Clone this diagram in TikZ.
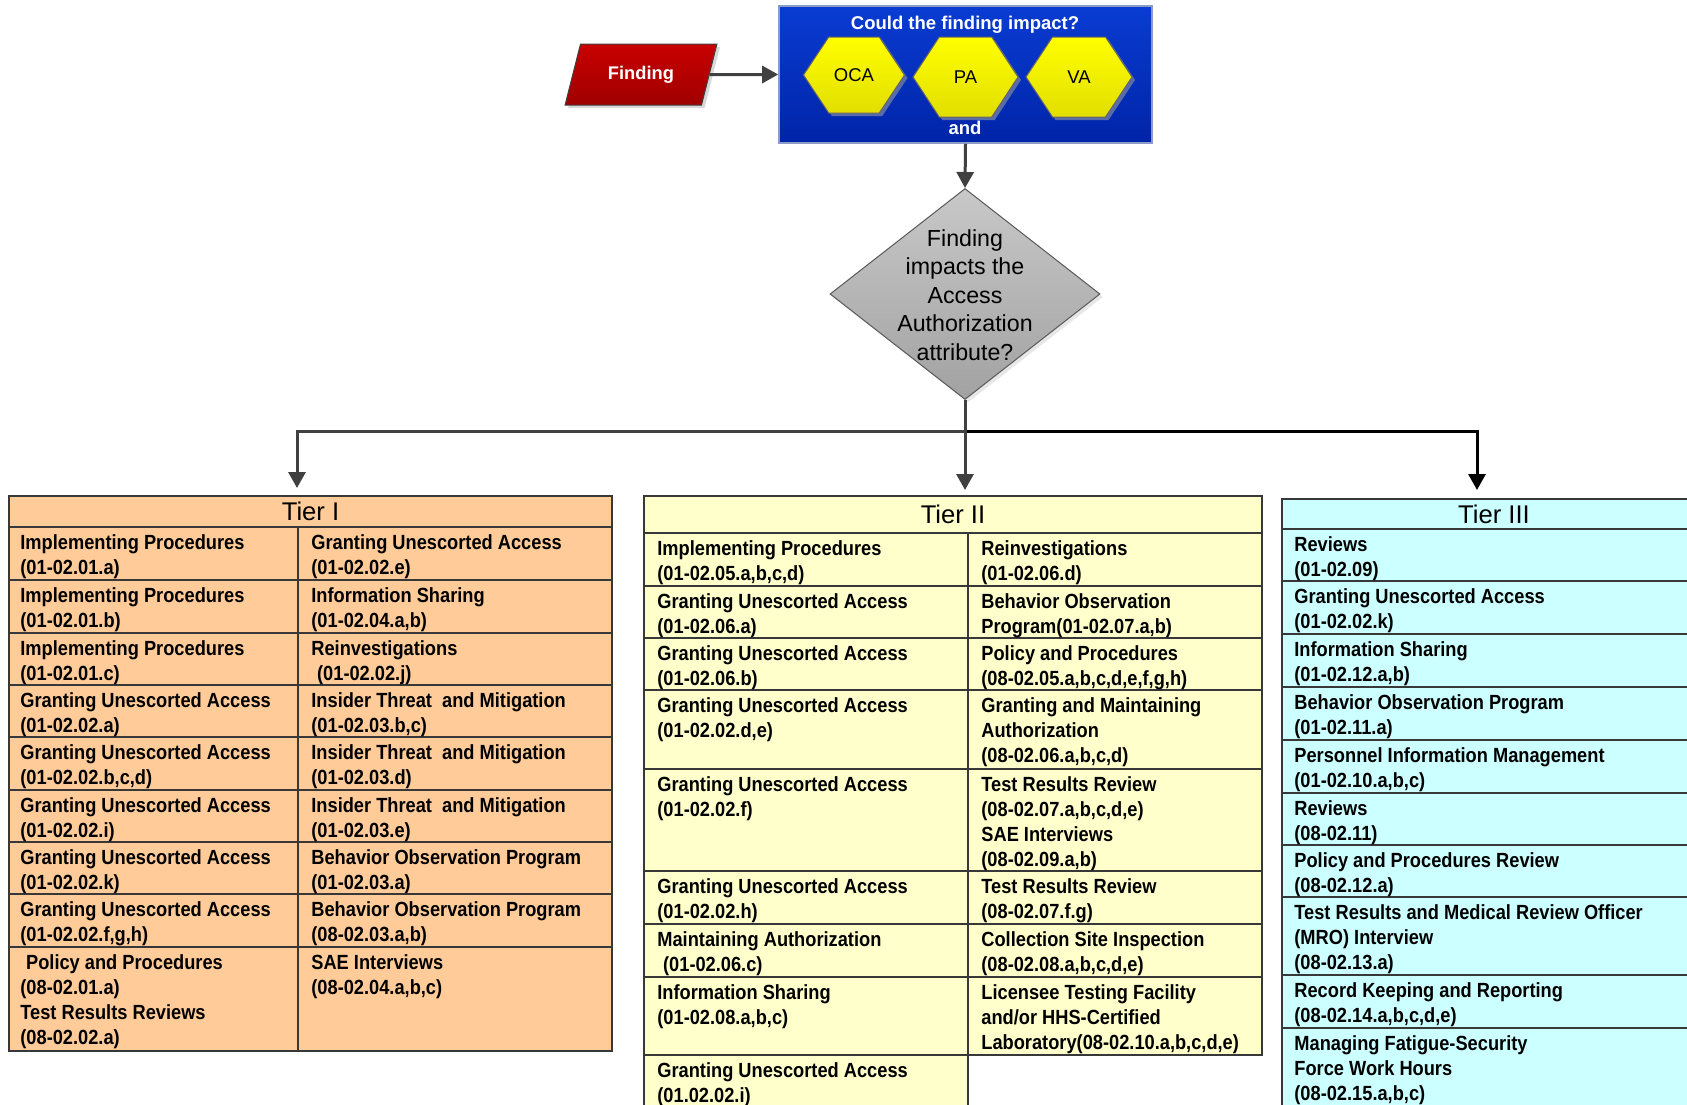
\documentclass[tikz,border=0pt]{standalone}
\usepackage{fontspec}
\setmainfont{Liberation Sans}
\newfontfamily\cellfont[FakeStretch=0.89]{Liberation Sans}
\usetikzlibrary{arrows.meta,shapes.geometric,shadows,calc,shadings}
\definecolor{peach}{HTML}{FFCC99}
\definecolor{lyellow}{HTML}{FFFFCC}
\definecolor{lcyan}{HTML}{CCFFFF}
\definecolor{connc}{HTML}{404040}
\definecolor{tlinec}{HTML}{383838}
\definecolor{bluetop}{HTML}{0A3CD2}
\definecolor{bluebot}{HTML}{0024A8}
\definecolor{blueedge}{HTML}{8C9BC8}
\definecolor{redtop}{HTML}{C80000}
\definecolor{redbot}{HTML}{A00000}
\definecolor{yeltop}{HTML}{FFFF00}
\definecolor{yelbot}{HTML}{E2DE00}
\definecolor{hexshadow}{HTML}{5A6CA8}
\definecolor{diatop}{HTML}{C8C8C8}
\definecolor{diabot}{HTML}{A2A2A2}
\newcommand\ft{\rule{0pt}{7.6pt}}
\newcommand\hexshape[4]{(#1-#3,#2) -- (#1-#3/2,#2-#4) -- (#1+#3/2,#2-#4) -- (#1+#3,#2) -- (#1+#3/2,#2+#4) -- (#1-#3/2,#2+#4) -- cycle}
\tikzset{
  cell/.style={anchor=north west, inner sep=0pt, align=left,
    font=\cellfont\bfseries\fontsize{10.25pt}{12.6pt}\selectfont},
  tier/.style={draw=tlinec, line width=0.75pt, inner sep=0pt, outer sep=0pt,
    font=\fontsize{12.8pt}{14pt}\selectfont},
  tline/.style={draw=tlinec, line width=0.75pt},
  conn/.style={draw=connc, line width=1.5pt, -{Triangle[width=8.5pt,length=8pt]}},
  connb/.style={draw=black, line width=1.5pt, -{Triangle[width=8.5pt,length=8pt]}},
  whitebold/.style={text=white, inner sep=0pt, font=\bfseries\fontsize{9.25pt}{11pt}\selectfont},
  hexlabel/.style={inner sep=0pt, font=\fontsize{9.25pt}{11pt}\selectfont},
  hexfill/.style={draw=black!60, line width=0.5pt, top color=yeltop, bottom color=yelbot},
}
\begin{document}
\begin{tikzpicture}[x=0.5pt,y=-0.5pt]
\useasboundingbox (0,0) rectangle (1687,1104);
\clip (0,0) rectangle (1687,1104);
\fill[white] (0,0) rectangle (1687,1104);

% ---------- Finding ----------
\node[trapezium, trapezium left angle=63.8, trapezium right angle=116.2,
  trapezium stretches=true, minimum width=76pt, minimum height=30.5pt, inner sep=0pt,
  draw=connc, line width=0.5pt, top color=redtop, bottom color=redbot,
  drop shadow={shadow xshift=1.5pt, shadow yshift=-1.5pt, fill=black!30},
  text=white, font=\bfseries\fontsize{9.15pt}{11pt}\selectfont] (finding) at (641,74.5) {Finding};

% ---------- Impact box ----------
\node[draw=blueedge, line width=0.8pt, top color=bluetop, bottom color=bluebot,
  minimum width=186.5pt, minimum height=68.5pt, inner sep=0pt] (impact) at (965.5,74.5) {};
\node[whitebold] (impq) at (965,24.5) {Could the finding impact?};
\fill[hexshadow, xshift=1.5pt, yshift=-1.5pt] \hexshape{854}{75}{50.5}{38};
\fill[hexshadow, xshift=1.5pt, yshift=-1.5pt] \hexshape{965.5}{77}{52.5}{40};
\fill[hexshadow, xshift=1.5pt, yshift=-1.5pt] \hexshape{1079}{77}{53}{40};
\path[hexfill] \hexshape{854}{75}{50.5}{38};
\path[hexfill] \hexshape{965.5}{77}{52.5}{40};
\path[hexfill] \hexshape{1079}{77}{53}{40};
\node[hexlabel] (oca) at (854,75) {OCA};
\node[hexlabel] (pa) at (965.5,77) {PA};
\node[hexlabel] (va) at (1079,77) {VA};
\node[whitebold] (andl) at (965,128) {and};

% ---------- Decision ----------
\node[diamond, minimum width=135pt, minimum height=105.5pt, inner sep=0pt,
  draw=black!65, line width=0.5pt, top color=diatop, bottom color=diabot,
  drop shadow={shadow xshift=1.5pt, shadow yshift=-1.5pt, fill=black!18}] (dia) at (965,294) {};
\node[align=center, inner sep=0pt, font=\fontsize{11.6pt}{14.2pt}\selectfont] (diatext) at (965,295)
  {Finding\\impacts the\\Access\\Authorization\\attribute?};

% ---------- Tier I ----------
\node[tier, fill=peach, minimum width=301.5pt, minimum height=15.5pt] (tierI) at (310.5,511.5) {Tier I};
\draw[tline, fill=peach] (9,527) rectangle (612,1051);
\foreach \yy in {580,633,685,737,790,842,894,947} \draw[tline] (9,\yy) -- (612,\yy);
\draw[tline] (298,527) -- (298,1051);

\node[cell] (a1l) at (20,533.5) {\ft Implementing Procedures\\(01-02.01.a)};
\node[cell] (a1r) at (311,533.5) {\ft Granting Unescorted Access\\(01-02.02.e)};
\node[cell] (a2l) at (20,586.5) {\ft Implementing Procedures\\(01-02.01.b)};
\node[cell] (a2r) at (311,586.5) {\ft Information Sharing\\(01-02.04.a,b)};
\node[cell] (a3l) at (20,639.5) {\ft Implementing Procedures\\(01-02.01.c)};
\node[cell] (a3r) at (311,639.5) {\ft Reinvestigations\\\hspace*{0.28em}(01-02.02.j)};
\node[cell] (a4l) at (20,691.5) {\ft Granting Unescorted Access\\(01-02.02.a)};
\node[cell] (a4r) at (311,691.5) {\ft Insider Threat~ and Mitigation\\(01-02.03.b,c)};
\node[cell] (a5l) at (20,743.5) {\ft Granting Unescorted Access\\(01-02.02.b,c,d)};
\node[cell] (a5r) at (311,743.5) {\ft Insider Threat~ and Mitigation\\(01-02.03.d)};
\node[cell] (a6l) at (20,796.5) {\ft Granting Unescorted Access\\(01-02.02.i)};
\node[cell] (a6r) at (311,796.5) {\ft Insider Threat~ and Mitigation\\(01-02.03.e)};
\node[cell] (a7l) at (20,848.5) {\ft Granting Unescorted Access\\(01-02.02.k)};
\node[cell] (a7r) at (311,848.5) {\ft Behavior Observation Program\\(01-02.03.a)};
\node[cell] (a8l) at (20,900.5) {\ft Granting Unescorted Access\\(01-02.02.f,g,h)};
\node[cell] (a8r) at (311,900.5) {\ft Behavior Observation Program\\(08-02.03.a,b)};
\node[cell] (a9l) at (20,953.5) {\ft\hspace*{0.28em}Policy and Procedures\\(08-02.01.a)\\Test Results Reviews\\(08-02.02.a)};
\node[cell] (a9r) at (311,953.5) {\ft SAE Interviews\\(08-02.04.a,b,c)};

% ---------- Tier II ----------
\node[tier, fill=lyellow, minimum width=309pt, minimum height=18.5pt] (tierII) at (953,514.5) {Tier II};
\draw[tline, fill=lyellow] (644,533) rectangle (1262,1055);
\draw[tline, fill=lyellow] (644,1055) rectangle (968,1130);
\foreach \yy in {586,638,690,769,871,924,977} \draw[tline] (644,\yy) -- (1262,\yy);
\draw[tline] (968,533) -- (968,1055);

\node[cell] (b1l) at (657,539.5) {\ft Implementing Procedures\\(01-02.05.a,b,c,d)};
\node[cell] (b1r) at (981,539.5) {\ft Reinvestigations\\(01-02.06.d)};
\node[cell] (b2l) at (657,592.5) {\ft Granting Unescorted Access\\(01-02.06.a)};
\node[cell] (b2r) at (981,592.5) {\ft Behavior Observation\\Program(01-02.07.a,b)};
\node[cell] (b3l) at (657,644.5) {\ft Granting Unescorted Access\\(01-02.06.b)};
\node[cell] (b3r) at (981,644.5) {\ft Policy and Procedures\\(08-02.05.a,b,c,d,e,f,g,h)};
\node[cell] (b4l) at (657,696.5) {\ft Granting Unescorted Access\\(01-02.02.d,e)};
\node[cell] (b4r) at (981,696.5) {\ft Granting and Maintaining\\Authorization\\(08-02.06.a,b,c,d)};
\node[cell] (b5l) at (657,775.5) {\ft Granting Unescorted Access\\(01-02.02.f)};
\node[cell] (b5r) at (981,775.5) {\ft Test Results Review\\(08-02.07.a,b,c,d,e)\\SAE Interviews\\(08-02.09.a,b)};
\node[cell] (b6l) at (657,877.5) {\ft Granting Unescorted Access\\(01-02.02.h)};
\node[cell] (b6r) at (981,877.5) {\ft Test Results Review\\(08-02.07.f.g)};
\node[cell] (b7l) at (657,930.5) {\ft Maintaining Authorization\\\hspace*{0.28em}(01-02.06.c)};
\node[cell] (b7r) at (981,930.5) {\ft Collection Site Inspection\\(08-02.08.a,b,c,d,e)};
\node[cell] (b8l) at (657,983.5) {\ft Information Sharing\\(01-02.08.a,b,c)};
\node[cell] (b8r) at (981,983.5) {\ft Licensee Testing Facility\\and/or HHS-Certified\\Laboratory(08-02.10.a,b,c,d,e)};
\node[cell] (b9l) at (657,1061.5) {\ft Granting Unescorted Access\\(01.02.02.i)};

% ---------- Tier III ----------
\node[tier, fill=lcyan, minimum width=212pt, minimum height=15pt] (tierIII) at (1494,514) {Tier III};
\draw[tline, fill=lcyan] (1282,529) rectangle (1706,1130);
\foreach \yy in {581,634,687,740,793,845,897,975,1028} \draw[tline] (1282,\yy) -- (1706,\yy);

\node[cell] (c1) at (1294,535.5) {\ft Reviews\\(01-02.09)};
\node[cell] (c2) at (1294,587.5) {\ft Granting Unescorted Access\\(01-02.02.k)};
\node[cell] (c3) at (1294,640.5) {\ft Information Sharing\\(01-02.12.a,b)};
\node[cell] (c4) at (1294,693.5) {\ft Behavior Observation Program\\(01-02.11.a)};
\node[cell] (c5) at (1294,746.5) {\ft Personnel Information Management\\(01-02.10.a,b,c)};
\node[cell] (c6) at (1294,799.5) {\ft Reviews\\(08-02.11)};
\node[cell] (c7) at (1294,851.5) {\ft Policy and Procedures Review\\(08-02.12.a)};
\node[cell] (c8) at (1294,903.5) {\ft Test Results and Medical Review Officer\\(MRO) Interview\\(08-02.13.a)};
\node[cell] (c9) at (1294,981.5) {\ft Record Keeping and Reporting\\(08-02.14.a,b,c,d,e)};
\node[cell] (c10) at (1294,1034.5) {\ft Managing Fatigue-Security\\Force Work Hours\\(08-02.15.a,b,c)};

% ---------- Connectors ----------
\draw[conn] (finding.east) -- (impact.west);
\draw[conn] (impact.south) -- (dia.north);
\coordinate (split) at ($(dia.south)+(0,31)$);
\draw[connb, shorten >=4.5pt] (split) -| ([xshift=-8.5pt]tierIII.north);
\draw[conn, shorten >=4pt] (split) -| ([xshift=-6.75pt]tierI.north);
\draw[conn, shorten >=3pt] (dia.south) -- (dia.south |- tierII.north);
\end{tikzpicture}
\end{document}
